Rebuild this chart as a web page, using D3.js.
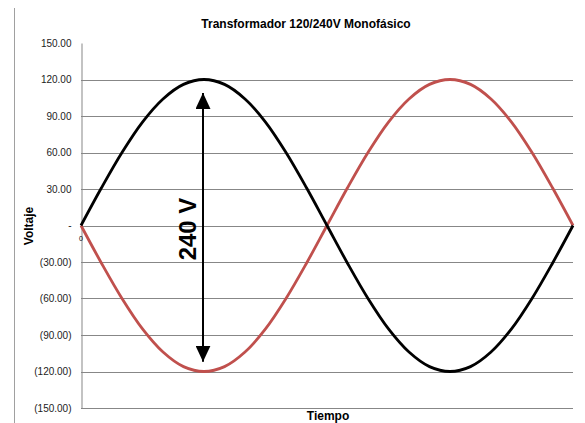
<!DOCTYPE html>
<html>
<head>
<meta charset="utf-8">
<script src="https://cdn.jsdelivr.net/npm/d3@7"></script>
<style>
  body { margin: 0; background: #fff; }
  text { font-family: "Liberation Sans", Arial, sans-serif; }
</style>
</head>
<body>
<div id="chart"></div>
<script>
const width = 585;
const height = 423;

// time steps (degrees) and voltages
const tiempo = [0, 15, 30, 45, 60, 75, 90, 105, 120, 135, 150, 165, 180,
	195, 210, 225, 240, 255, 270, 285, 300, 315, 330, 345, 360];
const faseA = [0, 31, 60, 85, 104, 116, 120, 116, 104, 85, 60, 31, 0,
	-31, -60, -85, -104, -116, -120, -116, -104, -85, -60, -31, 0];
const faseB = [0, -31, -60, -85, -104, -116, -120, -116, -104, -85, -60, -31, 0,
	31, 60, 85, 104, 116, 120, 116, 104, 85, 60, 31, 0];
const yTicks = [150, 120, 90, 60, 30, 0, -30, -60, -90, -120, -150];

const svg = d3
	.select("#chart")
	.append("svg")
	.attr("width", width)
	.attr("height", height);

const x = d3.scaleLinear().domain([0, 360]).range([81, 573]);
const y = d3.scaleLinear().domain([-150, 150]).range([408, 43]);

// outer chart border (left edge)
svg.append("line")
	.attr("x1", 14.5).attr("x2", 14.5)
	.attr("y1", 8).attr("y2", height)
	.attr("stroke", "#a0a0a0");

// gridlines
svg.append("g")
	.selectAll("line")
	.data(yTicks.filter(d => d !== 150))
	.enter()
	.append("line")
	.attr("x1", 81)
	.attr("x2", 573)
	.attr("y1", d => Math.round(y(d)) + 0.5)
	.attr("y2", d => Math.round(y(d)) + 0.5)
	.attr("stroke", "#878787");

// y axis
const fmt = d => {
	if (d === 0) return "-";
	const s = Math.abs(d).toFixed(2);
	return d < 0 ? "(" + s + ")" : s;
};
const yAxis = d3.axisLeft(y).tickValues(yTicks).tickFormat(fmt).tickSize(0).tickPadding(10);
const gy = svg.append("g").attr("transform", "translate(81.5,0)").call(yAxis);
gy.select(".domain").attr("stroke", "#878787");
gy.selectAll("text")
	.attr("font-size", 10)
	.attr("fill", "#222")
	.attr("font-family", "Liberation Serif, serif");

svg.append("text")
	.attr("x", 81)
	.attr("y", 241)
	.attr("text-anchor", "middle")
	.attr("font-size", 7)
	.text("0");

// curves
const line = d3.line()
	.x((d, i) => x(tiempo[i]))
	.y(d => y(d))
	.curve(d3.curveCatmullRom);

svg.append("path")
	.attr("d", line(faseB))
	.attr("fill", "none")
	.attr("stroke", "#c0504d")
	.attr("stroke-width", 2.8);

svg.append("path")
	.attr("d", line(faseA))
	.attr("fill", "none")
	.attr("stroke", "#000")
	.attr("stroke-width", 2.8);

// 240 V arrow
const defs = svg.append("defs");
["start", "end"].forEach(k => {
	defs.append("marker")
		.attr("id", "arrow-" + k)
		.attr("viewBox", "0 0 10 10")
		.attr("refX", 10).attr("refY", 5)
		.attr("markerWidth", 16).attr("markerHeight", 15)
		.attr("markerUnits", "userSpaceOnUse")
		.attr("orient", k === "start" ? "auto-start-reverse" : "auto")
		.attr("preserveAspectRatio", "none")
		.append("path")
		.attr("d", "M0,0 L10,5 L0,10 Z")
		.attr("fill", "#000");
});
svg.append("line")
	.attr("x1", 203).attr("x2", 203)
	.attr("y1", y(109)).attr("y2", y(-112))
	.attr("stroke", "#000")
	.attr("stroke-width", 2)
	.attr("marker-start", "url(#arrow-start)")
	.attr("marker-end", "url(#arrow-end)");

svg.append("text")
	.attr("transform", "translate(196,229) rotate(-90)")
	.attr("text-anchor", "middle")
	.attr("font-size", 24)
	.attr("font-weight", "bold")
	.text("240 V");

// titles
svg.append("text")
	.attr("x", 306)
	.attr("y", 28)
	.attr("text-anchor", "middle")
	.attr("font-size", 12)
	.attr("font-weight", "bold")
	.text("Transformador 120/240V Monofásico");

svg.append("text")
	.attr("transform", "translate(33,226) rotate(-90)")
	.attr("text-anchor", "middle")
	.attr("font-size", 12)
	.attr("font-weight", "bold")
	.text("Voltaje");

svg.append("text")
	.attr("x", 328)
	.attr("y", 420)
	.attr("text-anchor", "middle")
	.attr("font-size", 12)
	.attr("font-weight", "bold")
	.text("Tiempo");
</script>
</body>
</html>
